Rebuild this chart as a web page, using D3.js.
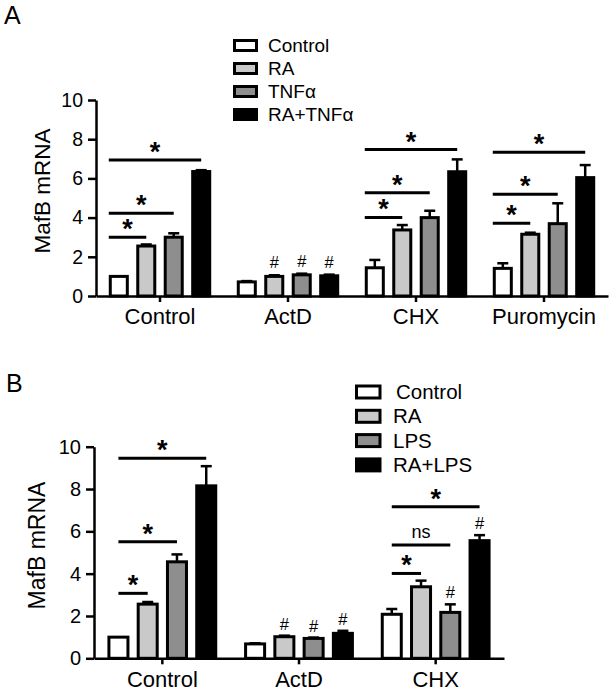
<!DOCTYPE html>
<html><head><meta charset="utf-8">
<script src="https://cdn.jsdelivr.net/npm/d3@7"></script>
<style>
html,body{margin:0;padding:0;background:#fff;}
svg{display:block;font-family:Arial,"Liberation Sans",Helvetica,sans-serif;}
</style></head>
<body>
<svg id="chart" width="614" height="692"></svg>
<script>
// ---------- DATA: Panel A ----------
const groupsA = ["Control", "ActD", "CHX", "Puromycin"];
const seriesA = ["Control", "RA", "TNFα", "RA+TNFα"];
const controlA = [1.0, 0.72, 1.44, 1.41];
const raA      = [2.55, 1.0, 3.37, 3.15];
const tnfA     = [3.0, 1.08, 4.0, 3.69];
const raTnfA   = [6.35, 1.03, 6.34, 6.04];
const errControlA = [0, 0.04, 0.40, 0.26];
const errRaA      = [0.08, 0.06, 0.25, 0.08];
const errTnfA     = [0.20, 0.06, 0.35, 1.04];
const errRaTnfA   = [0.07, 0.06, 0.63, 0.64];
// brackets: [group, from series, to series, level, label]
const bracketsA = [
  ["Control", 0, 3, 6.94, "*"], ["Control", 0, 2, 4.22, "*"], ["Control", 0, 1, 3.0, "*"],
  ["CHX", 0, 3, 7.47, "*"], ["CHX", 0, 2, 5.27, "*"], ["CHX", 0, 1, 4.01, "*"],
  ["Puromycin", 0, 3, 7.33, "*"], ["Puromycin", 0, 2, 5.19, "*"], ["Puromycin", 0, 1, 3.71, "*"]
];
const hashesA = [["ActD", 1], ["ActD", 2], ["ActD", 3]];

// ---------- DATA: Panel B ----------
const groupsB = ["Control", "ActD", "CHX"];
const seriesB = ["Control", "RA", "LPS", "RA+LPS"];
const controlB = [1.0, 0.68, 2.08];
const raB      = [2.56, 1.02, 3.38];
const lpsB     = [4.56, 0.94, 2.17];
const raLpsB   = [8.15, 1.18, 5.56];
const errControlB = [0, 0.03, 0.25];
const errRaB      = [0.10, 0.05, 0.29];
const errLpsB     = [0.35, 0.04, 0.38];
const errRaLpsB   = [0.93, 0.12, 0.26];
const bracketsB = [
  ["Control", 0, 3, 9.45, "*"], ["Control", 0, 2, 5.51, "*"], ["Control", 0, 1, 3.07, "*"],
  ["CHX", 0, 3, 7.16, "*"], ["CHX", 0, 2, 5.35, "ns"], ["CHX", 0, 1, 4.01, "*"]
];
const hashesB = [["ActD", 1], ["ActD", 2], ["ActD", 3], ["CHX", 2], ["CHX", 3]];

const yTicks = [0, 2, 4, 6, 8, 10];
const yTitle = "MafB mRNA";
const fills = ["#ffffff", "#c9c9c9", "#8e8e8e", "#000000"];

const svg = d3.select("#chart");

function drawPanel(cfg) {
  const g = svg.append("g");
  const x0 = d3.scaleBand().domain(cfg.groups).range([cfg.left, cfg.right])
    .paddingInner(0).paddingOuter(0);
  const x1 = d3.scaleBand().domain(d3.range(cfg.series.length))
    .range([0, x0.bandwidth()]).paddingInner(cfg.padIn).paddingOuter(cfg.padOut);
  const y = d3.scaleLinear().domain([0, 10]).range([cfg.bottom, cfg.top]);

  const rows = [];
  cfg.groups.forEach((grp, gi) => {
    cfg.values.forEach((vals, si) => {
      rows.push({grp, si, v: vals[gi], e: cfg.errs[si][gi]});
    });
  });

  // error bars (drawn first, bars on top)
  const eb = g.append("g");
  rows.filter(d => d.e > 0).forEach(d => {
    const cx = x0(d.grp) + x1(d.si) + x1.bandwidth() / 2;
    eb.append("line").attr("x1", cx).attr("x2", cx)
      .attr("y1", y(d.v)).attr("y2", y(d.v + d.e))
      .attr("stroke", "#000").attr("stroke-width", 2.5);
    eb.append("line").attr("x1", cx - 5.5).attr("x2", cx + 5.5)
      .attr("y1", y(d.v + d.e)).attr("y2", y(d.v + d.e))
      .attr("stroke", "#000").attr("stroke-width", 2.5);
  });

  g.append("g").selectAll("rect").data(rows).join("rect")
    .attr("x", d => x0(d.grp) + x1(d.si))
    .attr("width", x1.bandwidth())
    .attr("y", d => y(d.v))
    .attr("height", d => y(0) - y(d.v))
    .attr("fill", d => fills[d.si])
    .attr("stroke", "#000").attr("stroke-width", 3);

  // axes
  const ya = g.append("g").attr("transform", `translate(${cfg.left},0)`)
    .call(d3.axisLeft(y).tickValues(yTicks).tickSize(8).tickSizeOuter(0).tickPadding(5));
  const xa = g.append("g").attr("transform", `translate(0,${cfg.bottom})`)
    .call(d3.axisBottom(x0).tickSize(6).tickSizeOuter(0).tickPadding(cfg.xPad));
  [ya, xa].forEach(a => {
    a.select(".domain").attr("stroke", "#000").attr("stroke-width", 2.5);
    a.selectAll(".tick line").attr("stroke", "#000").attr("stroke-width", 2.5);
    a.selectAll("text").attr("fill", "#000").style("font-family", "Arial, 'Liberation Sans', sans-serif");
  });
  ya.selectAll("text").style("font-size", cfg.yFont + "px");
  xa.selectAll("text").style("font-size", cfg.xFont + "px");

  // y title
  g.append("text")
    .attr("transform", `translate(${cfg.titleX},${(cfg.top + cfg.bottom) / 2 - 7}) rotate(-90)`)
    .attr("text-anchor", "middle").style("font-size", cfg.titleFont + "px").text(yTitle);

  // significance brackets
  cfg.brackets.forEach(([grp, a, b, lvl, lab]) => {
    const xa0 = x0(grp) + x1(a) + (cfg.bracketFromCenter ? x1.bandwidth() / 2 : -1.5);
    const xb = x0(grp) + x1(b) + x1.bandwidth() / 2;
    g.append("line").attr("x1", xa0).attr("x2", xb).attr("y1", y(lvl)).attr("y2", y(lvl))
      .attr("stroke", "#000").attr("stroke-width", 3);
    if (lab === "*") {
      g.append("text").attr("x", (xa0 + xb) / 2).attr("y", y(lvl) + 1)
        .attr("text-anchor", "middle").style("font-size", "27px").style("font-weight", "bold")
        .text(lab);
    } else {
      g.append("text").attr("x", (xa0 + xb) / 2).attr("y", y(lvl) - 7)
        .attr("text-anchor", "middle").style("font-size", "18px").text(lab);
    }
  });

  // hashes
  cfg.hashes.forEach(([grp, si]) => {
    const gi = cfg.groups.indexOf(grp);
    const top = cfg.values[si][gi] + cfg.errs[si][gi];
    g.append("text").attr("x", x0(grp) + x1(si) + x1.bandwidth() / 2)
      .attr("y", y(top) - cfg.hashGap)
      .attr("text-anchor", "middle").style("font-size", "16.5px").text("#");
  });

  // legend
  const lg = g.append("g");
  cfg.series.forEach((s, i) => {
    const yy = cfg.legY + i * cfg.legStep;
    lg.append("rect").attr("x", cfg.legX).attr("y", yy)
      .attr("width", cfg.legW).attr("height", cfg.legH)
      .attr("fill", fills[i]).attr("stroke", "#000").attr("stroke-width", 3);
    lg.append("text").attr("x", cfg.legTextX + (i === 0 ? cfg.legFirstShift : 0))
      .attr("y", yy + cfg.legH / 2).attr("dy", "0.35em")
      .style("font-size", cfg.legFont + "px").text(s);
  });

  // panel letter
  svg.append("text").attr("x", cfg.letterX).attr("y", cfg.letterY)
    .style("font-size", "25px").text(cfg.letter);
}

drawPanel({
  letter: "A", letterX: 4, letterY: 24,
  groups: groupsA, series: seriesA,
  values: [controlA, raA, tnfA, raTnfA],
  errs: [errControlA, errRaA, errTnfA, errRaTnfA],
  brackets: bracketsA, hashes: hashesA, bracketFromCenter: false,
  left: 96, right: 608, top: 100, bottom: 296,
  padIn: 0.38, padOut: 0.52, xPad: 6,
  yFont: 19.5, xFont: 22, titleFont: 22.5, titleX: 50,
  hashGap: 7,
  legX: 234.5, legY: 40.5, legW: 22, legH: 10, legStep: 23, legTextX: 268, legFirstShift: 0, legFont: 19
});

drawPanel({
  letter: "B", letterX: 6, letterY: 392,
  groups: groupsB, series: seriesB,
  values: [controlB, raB, lpsB, raLpsB],
  errs: [errControlB, errRaB, errLpsB, errRaLpsB],
  brackets: bracketsB, hashes: hashesB, bracketFromCenter: true,
  left: 94, right: 504, top: 446.7, bottom: 658.3,
  padIn: 0.35, padOut: 0.51, xPad: 7,
  yFont: 20, xFont: 22, titleFont: 23, titleX: 45,
  hashGap: 6,
  legX: 356.5, legY: 386, legW: 23.5, legH: 12, legStep: 24.3, legTextX: 393, legFirstShift: 3, legFont: 20.5
});
</script>
</body></html>
